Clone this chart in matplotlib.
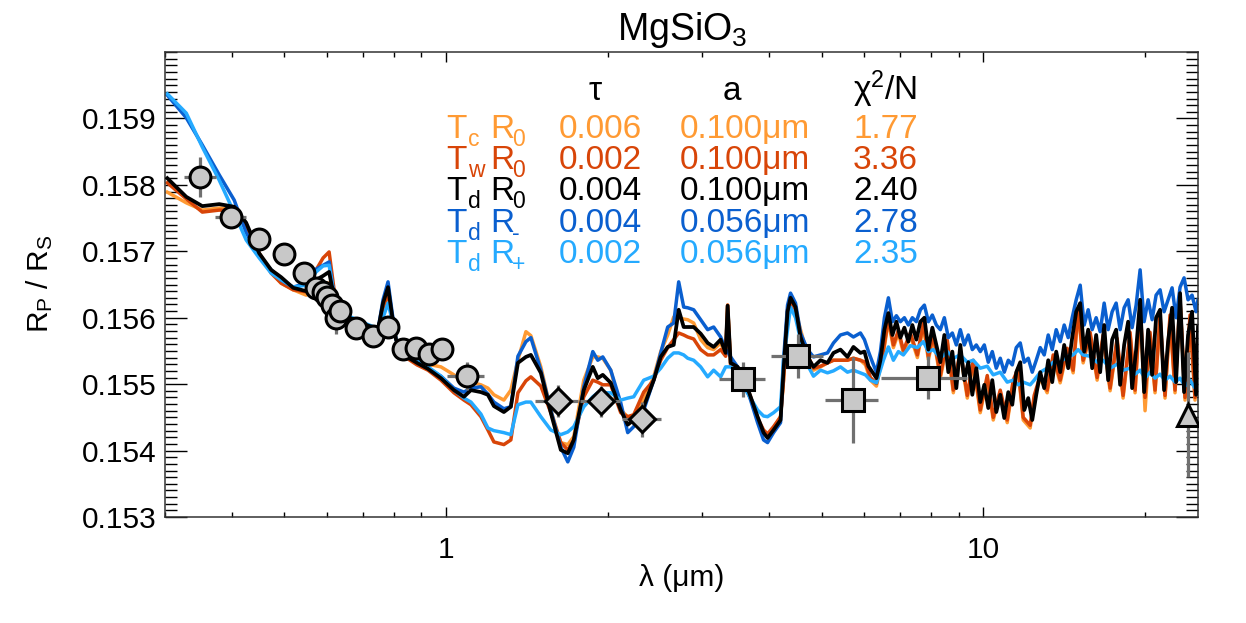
import matplotlib.pyplot as plt
from matplotlib.ticker import FixedLocator, NullFormatter, MultipleLocator

plt.rcParams['font.family'] = ['Liberation Sans', 'DejaVu Sans']
plt.rcParams['mathtext.default'] = 'regular'

# model wavelength grids (micron)
wl_vis = [
    0.3030, 0.3286, 0.3520, 0.3785, 0.4036, 0.4248, 0.4492, 0.4729, 0.4935, 0.5196,
    0.5493, 0.5733, 0.5907, 0.6061, 0.6192, 0.6380, 0.6574, 0.6951, 0.7348, 0.7475,
    0.7637, 0.7802, 0.7937, 0.8074, 0.8462, 0.8833, 0.9259, 0.9788, 1.0348, 1.0801,
    1.1131, 1.1616, 1.1969, 1.2281, 1.2817, 1.3207, 1.3613, 1.4088, 1.4389, 1.5018,
    1.5674, 1.6359, 1.6857, 1.7295, 1.8052, 1.8762, 1.9168, 1.9583, 2.0264, 2.1150,
    2.1793, 2.2361, 2.3340, 2.4361, 2.5102, 2.5866, 2.6539, 2.7113, 2.7700, 2.8178,
    2.8911, 2.9790, 3.0696, 3.1494, 3.2452, 3.3154, 3.3439, 3.3871, 3.4900, 3.5808,
    3.6897, 3.8018, 3.9006, 3.9680, 4.0712, 4.1950, 4.2491, 4.3226, 4.3784, 4.4732,
    4.5699, 4.7087, 4.8313, 4.9784, 5.1298, 5.2631, 5.4231, 5.5880, 5.7331, 5.9077,
]
wl_ir = [
    6.036, 6.166, 6.327, 6.519, 6.660, 6.804, 6.951, 7.101, 7.317, 7.540,
    7.736, 7.904, 8.074, 8.320, 8.573, 8.796, 9.064, 9.339, 9.581, 9.872,
    10.173, 10.437, 10.755, 11.082, 11.370, 11.616, 11.867, 12.228, 12.439, 12.768,
    13.150, 13.494, 13.904, 14.328, 14.700, 15.018, 15.343, 15.810, 16.291, 16.714,
    17.222, 17.746, 18.207, 18.761, 19.167, 19.582, 20.005, 20.438, 20.880, 21.332,
    21.793, 22.265, 22.747, 23.239, 23.742, 24.256, 24.780, 25.100,
]
wl_ir_hr = [
    6.010, 6.114, 6.220, 6.327, 6.436, 6.547, 6.660, 6.775, 6.892, 7.011,
    7.132, 7.255, 7.380, 7.508, 7.638, 7.770, 7.904, 8.040, 8.179, 8.320,
    8.464, 8.610, 8.759, 8.910, 9.064, 9.221, 9.380, 9.542, 9.707, 9.874,
    10.045, 10.218, 10.395, 10.574, 10.757, 10.943, 11.132, 11.324, 11.520, 11.718,
    11.921, 12.127, 12.336, 12.549, 12.766, 12.986, 13.211, 13.439, 13.671, 13.907,
    14.147, 14.391, 14.640, 14.893, 15.150, 15.412, 15.678, 15.948, 16.224, 16.504,
    16.789, 17.079, 17.374, 17.674, 17.979, 18.290, 18.606, 18.927, 19.254, 19.586,
    19.925, 20.269, 20.619, 20.975, 21.337, 21.706, 22.080, 22.462, 22.850, 23.244,
    23.646, 24.054, 24.469, 24.892, 25.100,
]

# Rp/Rs of the five models (vis part on wl_vis, IR part on wl_ir or wl_ir_hr)
rp_tc_r0 = [
    0.15789, 0.15773, 0.15762, 0.15765, 0.15764, 0.15741, 0.15697, 0.15669, 0.15652, 0.15642,
    0.15634, 0.15642, 0.15652, 0.15652, 0.15627, 0.15615, 0.15601, 0.15592, 0.15585, 0.15582,
    0.15612, 0.15637, 0.15600, 0.15567, 0.15542, 0.15535, 0.15530, 0.15526, 0.15514, 0.15500,
    0.15503, 0.15499, 0.15494, 0.15484, 0.15476, 0.15491, 0.15536, 0.15579, 0.15573, 0.15526,
    0.15461, 0.15412, 0.15409, 0.15421, 0.15506, 0.15541, 0.15541, 0.15539, 0.15521, 0.15461,
    0.15451, 0.15451, 0.15476, 0.15511, 0.15549, 0.15574, 0.15601, 0.15600, 0.15598, 0.15597,
    0.15592, 0.15567, 0.15555, 0.15552, 0.15562, 0.15544, 0.15619, 0.15529, 0.15521, 0.15506,
    0.15479, 0.15446, 0.15428, 0.15422, 0.15434, 0.15451, 0.15506, 0.15612, 0.15627, 0.15612,
    0.15582, 0.15544, 0.15521, 0.15526, 0.15532, 0.15536, 0.15536, 0.15536, 0.15539, 0.15536,
    0.15529, 0.15506, 0.15497, 0.15547, 0.15595, 0.15555, 0.15577, 0.15547, 0.15573, 0.15540,
    0.15588, 0.15537, 0.15570, 0.15509, 0.15562, 0.15487, 0.15547, 0.15479, 0.15532, 0.15457,
    0.15509, 0.15446, 0.15487, 0.15442, 0.15502, 0.15520, 0.15446, 0.15434, 0.15479, 0.15509,
    0.15487, 0.15540, 0.15502, 0.15550, 0.15517, 0.15610, 0.15532, 0.15574, 0.15506, 0.15570,
    0.15490, 0.15565, 0.15479, 0.15574, 0.15487, 0.15615, 0.15460, 0.15574, 0.15487, 0.15600,
    0.15479, 0.15600, 0.15487, 0.15625, 0.15476, 0.15600, 0.15476, 0.15574,
]

rp_tw_r0 = [
    0.15803, 0.15779, 0.15759, 0.15762, 0.15761, 0.15738, 0.15697, 0.15667, 0.15652, 0.15642,
    0.15639, 0.15672, 0.15690, 0.15699, 0.15642, 0.15618, 0.15600, 0.15591, 0.15583, 0.15582,
    0.15615, 0.15637, 0.15600, 0.15567, 0.15539, 0.15529, 0.15521, 0.15506, 0.15487, 0.15476,
    0.15469, 0.15451, 0.15431, 0.15413, 0.15409, 0.15416, 0.15487, 0.15505, 0.15511, 0.15497,
    0.15457, 0.15412, 0.15401, 0.15416, 0.15481, 0.15506, 0.15503, 0.15499, 0.15499, 0.15457,
    0.15451, 0.15454, 0.15488, 0.15506, 0.15536, 0.15555, 0.15567, 0.15577, 0.15574, 0.15571,
    0.15568, 0.15552, 0.15544, 0.15544, 0.15552, 0.15542, 0.15619, 0.15529, 0.15521, 0.15509,
    0.15481, 0.15449, 0.15431, 0.15425, 0.15436, 0.15451, 0.15506, 0.15612, 0.15624, 0.15612,
    0.15574, 0.15544, 0.15524, 0.15527, 0.15532, 0.15536, 0.15536, 0.15536, 0.15539, 0.15536,
    0.15533, 0.15510, 0.15501, 0.15551, 0.15599, 0.15559, 0.15581, 0.15551, 0.15577, 0.15544,
    0.15592, 0.15541, 0.15574, 0.15513, 0.15566, 0.15491, 0.15551, 0.15483, 0.15536, 0.15461,
    0.15513, 0.15450, 0.15491, 0.15446, 0.15506, 0.15524, 0.15450, 0.15438, 0.15483, 0.15513,
    0.15491, 0.15544, 0.15506, 0.15554, 0.15521, 0.15614, 0.15536, 0.15578, 0.15510, 0.15574,
    0.15494, 0.15569, 0.15483, 0.15578, 0.15491, 0.15619, 0.15480, 0.15578, 0.15491, 0.15604,
    0.15483, 0.15604, 0.15491, 0.15629, 0.15480, 0.15604, 0.15480, 0.15578,
]

rp_td_r0 = [
    0.15810, 0.15782, 0.15768, 0.15771, 0.15767, 0.15743, 0.15697, 0.15672, 0.15661, 0.15645,
    0.15640, 0.15657, 0.15663, 0.15669, 0.15630, 0.15615, 0.15601, 0.15592, 0.15585, 0.15582,
    0.15622, 0.15646, 0.15604, 0.15567, 0.15541, 0.15532, 0.15523, 0.15509, 0.15491, 0.15481,
    0.15491, 0.15488, 0.15484, 0.15467, 0.15458, 0.15466, 0.15532, 0.15541, 0.15544, 0.15517,
    0.15457, 0.15401, 0.15396, 0.15416, 0.15491, 0.15526, 0.15509, 0.15514, 0.15502, 0.15461,
    0.15439, 0.15446, 0.15466, 0.15506, 0.15541, 0.15556, 0.15559, 0.15612, 0.15586, 0.15586,
    0.15586, 0.15576, 0.15562, 0.15556, 0.15567, 0.15547, 0.15618, 0.15532, 0.15526, 0.15511,
    0.15481, 0.15451, 0.15427, 0.15419, 0.15431, 0.15446, 0.15521, 0.15609, 0.15630, 0.15616,
    0.15571, 0.15541, 0.15526, 0.15536, 0.15532, 0.15547, 0.15552, 0.15541, 0.15556, 0.15547,
    0.15549, 0.15527, 0.15518, 0.15509, 0.15536, 0.15582, 0.15607, 0.15574, 0.15594, 0.15570,
    0.15585, 0.15564, 0.15589, 0.15567, 0.15594, 0.15600, 0.15552, 0.15585, 0.15559, 0.15533,
    0.15574, 0.15518, 0.15549, 0.15494, 0.15559, 0.15506, 0.15533, 0.15484, 0.15524, 0.15473,
    0.15499, 0.15464, 0.15506, 0.15458, 0.15484, 0.15449, 0.15488, 0.15469, 0.15518, 0.15533,
    0.15461, 0.15479, 0.15446, 0.15484, 0.15518, 0.15494, 0.15536, 0.15503, 0.15549, 0.15518,
    0.15559, 0.15524, 0.15570, 0.15609, 0.15622, 0.15549, 0.15582, 0.15524, 0.15574, 0.15518,
    0.15589, 0.15506, 0.15567, 0.15582, 0.15499, 0.15559, 0.15594, 0.15494, 0.15552, 0.15627,
    0.15488, 0.15582, 0.15514, 0.15600, 0.15612, 0.15491, 0.15564, 0.15615, 0.15503, 0.15637,
    0.15488, 0.15574, 0.15609, 0.15484, 0.15586,
]

rp_td_rminus = [
    0.15935, 0.15901, 0.15860, 0.15815, 0.15777, 0.15728, 0.15693, 0.15672, 0.15657, 0.15646,
    0.15652, 0.15673, 0.15679, 0.15684, 0.15633, 0.15616, 0.15601, 0.15592, 0.15585, 0.15582,
    0.15627, 0.15654, 0.15609, 0.15567, 0.15542, 0.15533, 0.15524, 0.15512, 0.15494, 0.15488,
    0.15494, 0.15496, 0.15485, 0.15473, 0.15463, 0.15466, 0.15542, 0.15564, 0.15570, 0.15521,
    0.15461, 0.15405, 0.15383, 0.15405, 0.15496, 0.15549, 0.15536, 0.15541, 0.15521, 0.15472,
    0.15427, 0.15436, 0.15461, 0.15506, 0.15547, 0.15586, 0.15592, 0.15654, 0.15616, 0.15615,
    0.15612, 0.15597, 0.15582, 0.15586, 0.15571, 0.15552, 0.15549, 0.15541, 0.15526, 0.15506,
    0.15476, 0.15442, 0.15416, 0.15412, 0.15427, 0.15442, 0.15536, 0.15619, 0.15637, 0.15622,
    0.15577, 0.15552, 0.15541, 0.15544, 0.15547, 0.15562, 0.15574, 0.15577, 0.15571, 0.15577,
    0.15567, 0.15549, 0.15533, 0.15518, 0.15549, 0.15600, 0.15630, 0.15594, 0.15603, 0.15594,
    0.15600, 0.15589, 0.15600, 0.15594, 0.15612, 0.15619, 0.15594, 0.15604, 0.15589, 0.15582,
    0.15600, 0.15570, 0.15577, 0.15559, 0.15582, 0.15559, 0.15574, 0.15552, 0.15559, 0.15549,
    0.15559, 0.15533, 0.15549, 0.15524, 0.15539, 0.15518, 0.15536, 0.15529, 0.15555, 0.15562,
    0.15533, 0.15539, 0.15518, 0.15536, 0.15555, 0.15544, 0.15574, 0.15552, 0.15582, 0.15564,
    0.15589, 0.15570, 0.15600, 0.15627, 0.15649, 0.15589, 0.15612, 0.15582, 0.15600, 0.15579,
    0.15622, 0.15582, 0.15609, 0.15622, 0.15582, 0.15615, 0.15627, 0.15585, 0.15619, 0.15672,
    0.15594, 0.15627, 0.15597, 0.15634, 0.15642, 0.15609, 0.15627, 0.15645, 0.15600, 0.15646,
    0.15660, 0.15627, 0.15634, 0.15609, 0.15627,
]

rp_td_rplus = [
    0.15937, 0.15908, 0.15857, 0.15807, 0.15758, 0.15717, 0.15690, 0.15667, 0.15657, 0.15646,
    0.15649, 0.15669, 0.15678, 0.15679, 0.15634, 0.15618, 0.15603, 0.15594, 0.15586, 0.15582,
    0.15600, 0.15622, 0.15597, 0.15567, 0.15544, 0.15536, 0.15526, 0.15512, 0.15491, 0.15479,
    0.15473, 0.15455, 0.15434, 0.15430, 0.15427, 0.15424, 0.15469, 0.15473, 0.15473, 0.15451,
    0.15431, 0.15424, 0.15428, 0.15436, 0.15466, 0.15481, 0.15487, 0.15487, 0.15487, 0.15476,
    0.15479, 0.15481, 0.15506, 0.15512, 0.15524, 0.15539, 0.15547, 0.15547, 0.15544, 0.15539,
    0.15536, 0.15526, 0.15511, 0.15521, 0.15511, 0.15526, 0.15526, 0.15526, 0.15518, 0.15496,
    0.15479, 0.15461, 0.15452, 0.15451, 0.15457, 0.15466, 0.15536, 0.15582, 0.15616, 0.15600,
    0.15567, 0.15529, 0.15512, 0.15521, 0.15517, 0.15520, 0.15526, 0.15518, 0.15521, 0.15517,
    0.15514, 0.15506, 0.15502, 0.15536, 0.15556, 0.15536, 0.15549, 0.15544, 0.15558, 0.15555,
    0.15564, 0.15549, 0.15552, 0.15539, 0.15549, 0.15539, 0.15544, 0.15533, 0.15536, 0.15524,
    0.15527, 0.15514, 0.15518, 0.15503, 0.15506, 0.15499, 0.15503, 0.15499, 0.15506, 0.15518,
    0.15524, 0.15533, 0.15533, 0.15542, 0.15544, 0.15552, 0.15544, 0.15542, 0.15533, 0.15536,
    0.15524, 0.15530, 0.15521, 0.15524, 0.15515, 0.15521, 0.15509, 0.15518, 0.15509, 0.15515,
    0.15506, 0.15512, 0.15503, 0.15509, 0.15497, 0.15506, 0.15494, 0.15500,
]

# observed points
circ_wl = [0.349, 0.398, 0.448, 0.5005, 0.5451, 0.5733, 0.5900, 0.6008, 0.6131, 0.6245,
           0.6362, 0.6804, 0.7308, 0.7811, 0.8328, 0.8794, 0.9311, 0.9830, 1.0926]
circ_wl_err = [0.024, 0.026, 0.020, 0.019, 0.007, 0.005, 0.005, 0.005, 0.005, 0.005,
               0.005, 0.006, 0.006, 0.006, 0.007, 0.007, 0.008, 0.008, 0.087]
circ_rp = [0.15812, 0.15752, 0.15719, 0.15696, 0.15667, 0.15645, 0.15639, 0.15631, 0.15619, 0.15600,
           0.15610, 0.15585, 0.15573, 0.15586, 0.15553, 0.15555, 0.15545, 0.15553, 0.15512]
circ_rp_err = [0.00030, 0.00008, 0.00008, 0.00006, 0.00006, 0.00005, 0.00005, 0.00020, 0.00005, 0.00025,
               0.00006, 0.00006, 0.00006, 0.00006, 0.00006, 0.00006, 0.00006, 0.00015, 0.00021]

diam_wl = [1.613, 1.942, 2.321]
diam_wl_err = [0.150, 0.165, 0.195]
diam_rp = [0.15475, 0.15474, 0.15447]
diam_rp_err = [0.00024, 0.00023, 0.00026]

sq_wl = [3.575, 4.525, 5.726, 7.89]
sq_wl_err = [0.355, 0.50, 0.65, 1.43]
sq_rp = [0.15507, 0.15542, 0.15476, 0.15510]
sq_rp_err = [0.00026, 0.00033, 0.00065, 0.00033]

tri_wl = [24.08]
tri_rp = [0.15454]
tri_rp_err = [0.00094]

# fit table
row_temp = ['c', 'w', 'd', 'd', 'd']
row_rad = ['0', '0', '0', '-', '+']
row_tau = ['0.006', '0.002', '0.004', '0.004', '0.002']
row_a = ['0.100\u03bcm', '0.100\u03bcm', '0.100\u03bcm', '0.056\u03bcm', '0.056\u03bcm']
row_chi2 = ['1.77', '3.36', '2.40', '2.78', '2.35']

c_orange = '#ff9a33'
c_red = '#d84508'
c_black = '#000000'
c_blue = '#0a5fcf'
c_lblue = '#25aaff'
row_colors = [c_orange, c_red, c_black, c_blue, c_lblue]

W, H = 1246, 623
fig = plt.figure(figsize=(W / 100, H / 100), dpi=100)
ax = fig.add_axes([165 / W, 1 - 517 / H, (1198 - 165) / W, (517 - 52) / H])

ax.plot(wl_vis + wl_ir, rp_tc_r0, color=c_orange, lw=2.5, zorder=2)
ax.plot(wl_vis + wl_ir, rp_tw_r0, color=c_red, lw=2.5, zorder=2)
ax.plot(wl_vis + wl_ir_hr, rp_td_rminus, color=c_blue, lw=2.5, zorder=2)
ax.plot(wl_vis + wl_ir, rp_td_rplus, color=c_lblue, lw=2.5, zorder=2)
ax.plot(wl_vis + wl_ir_hr, rp_td_r0, color=c_black, lw=2.7, zorder=3)

obs = dict(mfc='#c8c8c8', mec='black', mew=2.2, ecolor='#707070',
           elinewidth=2.3, capsize=0, ls='none', zorder=5)
ax.errorbar(circ_wl, circ_rp, xerr=circ_wl_err, yerr=circ_rp_err, marker='o', ms=15, **obs)
ax.errorbar(diam_wl, diam_rp, xerr=diam_wl_err, yerr=diam_rp_err, marker='D', ms=13, **obs)
ax.errorbar(sq_wl, sq_rp, xerr=sq_wl_err, yerr=sq_rp_err, marker='s', ms=16, **obs)
ax.errorbar(tri_wl, tri_rp, yerr=tri_rp_err, marker='^', ms=16, **obs)

ax.set_xscale('log')
ax.set_xlim(0.3, 25.1)
ax.set_ylim(0.153, 0.160)
ax.xaxis.set_major_locator(FixedLocator([1, 10]))
ax.xaxis.set_minor_locator(FixedLocator([0.3, 0.4, 0.5, 0.6, 0.7, 0.8, 0.9,
                                         2, 3, 4, 5, 6, 7, 8, 9, 20]))
ax.xaxis.set_minor_formatter(NullFormatter())
ax.set_xticklabels(['1', '10'])
ax.set_yticks([0.153, 0.154, 0.155, 0.156, 0.157, 0.158, 0.159])
ax.set_yticklabels(['0.153', '0.154', '0.155', '0.156', '0.157', '0.158', '0.159'])
ax.yaxis.set_minor_locator(MultipleLocator(0.0001))
ax.tick_params(which='both', direction='in', top=True, right=True, width=1, labelsize=21.5)
ax.tick_params(axis='x', which='major', length=7, pad=14)
ax.tick_params(axis='x', which='minor', length=3.5)
ax.tick_params(axis='y', which='major', length=16, pad=6)
ax.tick_params(axis='y', which='minor', length=8.5)
for s in ax.spines.values():
    s.set_linewidth(1.1)
    s.set_color('#333333')

fig.text(682 / W, 1 - 578 / H, '\u03bb (\u03bcm)', ha='center', va='center', fontsize=21.5)
fig.text(40 / W, 1 - 284 / H, 'R$_P$ / R$_S$', ha='center', va='center', rotation=90, fontsize=21.5)
fig.text(682 / W, 1 - 40 / H, 'MgSiO$_3$', ha='center', va='baseline', fontsize=27)

fs = 24
fs_sub = 16.5
fig.text(595 / W, 1 - 100 / H, '\u03c4', ha='center', va='baseline', fontsize=fs)
fig.text(732 / W, 1 - 100 / H, 'a', ha='center', va='baseline', fontsize=fs)
fig.text(917 / W, 1 - 100 / H, '\u03c7$^2$/N', ha='right', va='baseline', fontsize=fs)
for i in range(5):
    yb = 138 + 31.25 * i
    col = row_colors[i]
    fig.text(446 / W, 1 - yb / H, 'T', color=col, va='baseline', fontsize=fs)
    fig.text(468 / W, 1 - (yb + 8) / H, row_temp[i], color=col, va='baseline', fontsize=fs_sub)
    fig.text(490 / W, 1 - yb / H, 'R', color=col, va='baseline', fontsize=fs)
    fig.text(512 / W, 1 - (yb + 8) / H, row_rad[i], color=col, va='baseline', fontsize=fs_sub)
    fig.text(600 / W, 1 - yb / H, row_tau[i], color=col, ha='center', va='baseline', fontsize=fs)
    fig.text(680 / W, 1 - yb / H, row_a[i], color=col, ha='left', va='baseline', fontsize=fs)
    fig.text(918 / W, 1 - yb / H, row_chi2[i], color=col, ha='right', va='baseline', fontsize=fs)

fig.savefig('out.png', dpi=100)
